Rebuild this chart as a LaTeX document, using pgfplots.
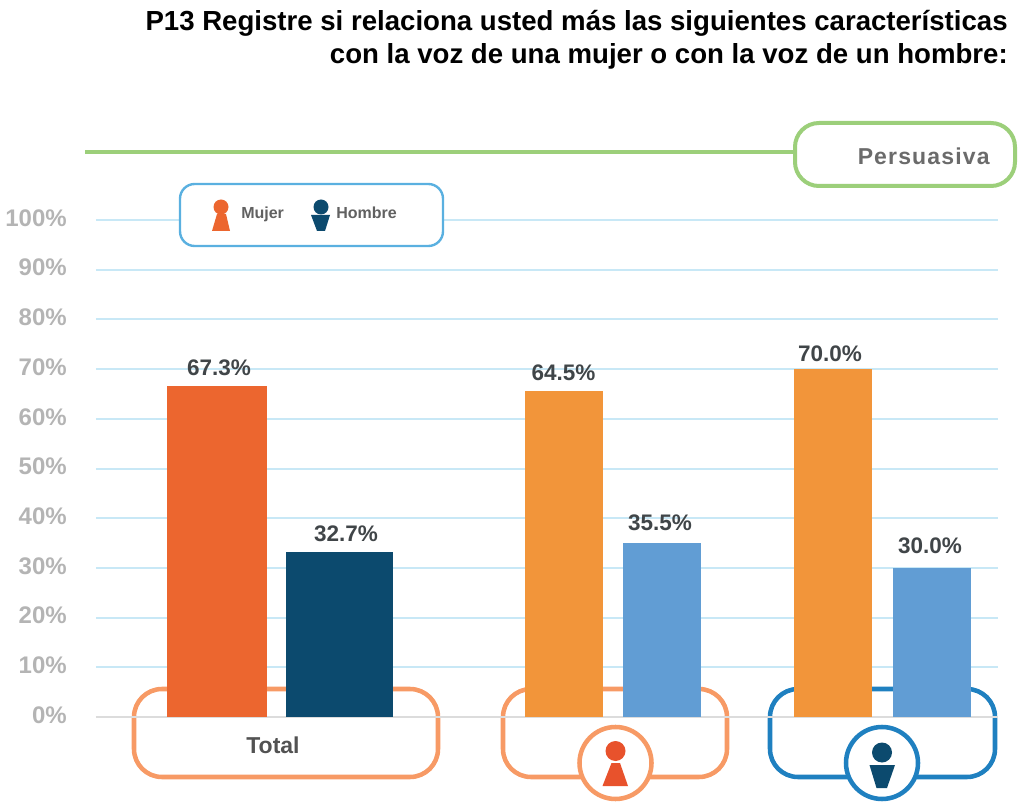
\documentclass[border=0pt]{standalone}
\usepackage{pgfplots}
\pgfplotsset{compat=1.18}
\usepackage{fontspec}
\setmainfont{Liberation Sans}
\definecolor{gridb}{HTML}{C8E8F6}
\definecolor{baseg}{HTML}{DCDCDC}
\definecolor{ttot}{HTML}{EC662F}
\definecolor{htot}{HTML}{0C4A6E}
\definecolor{tm}{HTML}{F2953A}
\definecolor{hm}{HTML}{619DD4}
\definecolor{boxo}{HTML}{F79A65}
\definecolor{boxb}{HTML}{1F80C0}
\definecolor{icono}{HTML}{E8522C}
\definecolor{greenl}{HTML}{9CCF7A}
\definecolor{legb}{HTML}{5AB0E0}
\definecolor{lblg}{HTML}{404548}
\definecolor{tickg}{HTML}{B4B4B4}
\newcommand{\px}[1]{\fontsize{\fpeval{#1*0.75}pt}{\fpeval{#1*0.9}pt}\selectfont}
% Bar heights are read from the drawn bars; the labels are the printed values
% (the source draws 67.3% and 64.5% slightly off their printed height).
\newcommand{\onebar}[7]{\addplot[fill=#1,draw=none,bar width=#2*0.75pt,bar shift=0pt,
  nodes near coords={#5\%},
  every node near coord/.append style={font=\bfseries\px{22.5},text=lblg,inner sep=0pt,yshift=#6*0.75pt,xshift=#7*0.75pt}]
  coordinates {(#3,#4)};}
\begin{document}
\begin{tikzpicture}[x=0.75pt,y=-0.75pt]
\path[use as bounding box] (0,0) rectangle (1018,802);
% boxes behind bars
\draw[boxo,line width=3.4pt,rounded corners=21pt] (134,689) rectangle (438,777);
\draw[boxo,line width=3.4pt,rounded corners=21pt] (503,689) rectangle (727,777);
\draw[boxb,line width=3.4pt,rounded corners=21pt] (770,689) rectangle (995,777);
\begin{axis}[
  at={(72pt,-537.75pt)},anchor=south west,
  scale only axis,width=676.5pt,height=372.75pt,
  xmin=96,xmax=998,ymin=0,ymax=100,
  ybar,
  xtick=\empty,
  ytick={10,20,...,100},
  extra y ticks={0},
  extra y tick style={grid style={baseg,line width=1.5pt}},
  ymajorgrids,
  grid style={gridb,line width=1.5pt},
  major tick length=0pt,
  axis line style={draw=none},
  /pgf/number format/assume math mode=true,
  yticklabel={\pgfmathprintnumber{\tick}\%},
  yticklabel style={font=\bfseries\px{24},text=tickg,inner sep=0pt,xshift=-21.75pt,yshift=1.5pt},
  clip=false,
]
\onebar{ttot}{100}{217}{66.6}{67.3}{9.5}{2}
\onebar{htot}{107}{339.5}{33.2}{32.7}{10}{6.5}
\onebar{tm}{78}{564}{65.6}{64.5}{10}{-0.5}
\onebar{hm}{78}{662}{35.0}{35.5}{12}{-2}
\onebar{tm}{78}{833}{70.0}{70.0}{7}{-3}
\onebar{hm}{78}{932}{30.0}{30.0}{14}{-2}
\end{axis}
% title
\node[anchor=base east,inner sep=0pt,font=\bfseries\px{27.6},text=black] at (1008,31) {P13 Registre si relaciona usted más las siguientes características};
\node[anchor=base east,inner sep=0pt,font=\bfseries\px{27.6},text=black] at (1008,64) {con la voz de una mujer o con la voz de un hombre:};
% green header
\draw[greenl,line width=3pt] (85,152) -- (795,152);
\draw[greenl,line width=3pt,fill=white,rounded corners=18pt] (795,123) rectangle (1015,186);
\node[anchor=base west,inner sep=0pt,font=\bfseries\px{23},text=black!58] at (857.5,165) {\addfontfeature{LetterSpace=5}Persuasiva};
% legend
\draw[legb,line width=1.8pt,fill=white,rounded corners=11pt] (180,184) rectangle (443,246);
\fill[ttot] (221,207) circle (7.5);
\fill[ttot] (217,214) -- (226,214) -- (230,231) -- (212,231) -- cycle;
\node[anchor=base west,inner sep=0pt,font=\bfseries\px{16},text=black!62] at (241,219) {Mujer};
\fill[htot] (321,207) circle (7.5);
\fill[htot] (311,215) -- (330,215) -- (325,231) -- (317,231) -- cycle;
\node[anchor=base west,inner sep=0pt,font=\bfseries\px{16},text=black!62] at (336,219) {Hombre};
% category tags
\node[inner sep=0pt,font=\bfseries\px{23},text=black!68] at (273,745) {Total};
\draw[boxo,line width=3.4pt,fill=white] (615.5,763) circle (36);
\fill[icono] (615.5,751) circle (10);
\fill[icono] (611.5,763) -- (620,763) -- (628,786) -- (602.5,786) -- cycle;
\draw[boxb,line width=3.4pt,fill=white] (882,763) circle (36);
\fill[htot] (882,752.5) circle (10);
\fill[htot] (869.5,765) -- (895,765) -- (887,788) -- (876.5,788) -- cycle;
\end{tikzpicture}
\end{document}
